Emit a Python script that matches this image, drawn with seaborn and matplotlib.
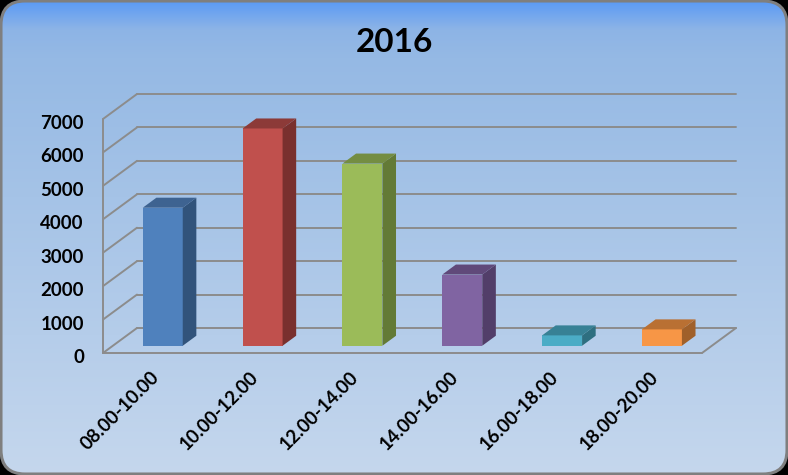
import numpy as np
import pandas as pd
import seaborn as sns
import matplotlib.pyplot as plt
from matplotlib.colors import LinearSegmentedColormap
from matplotlib.patches import FancyBboxPatch, Polygon
from matplotlib.transforms import Affine2D

categories = ["08.00-10.00", "10.00-12.00", "12.00-14.00", "14.00-16.00", "16.00-18.00", "18.00-20.00"]
values = [4130, 6500, 5450, 2130, 310, 490]
y_ticks = [0, 1000, 2000, 3000, 4000, 5000, 6000, 7000]

front_colors = ["#4F81BD", "#C0504D", "#9BBB59", "#8064A2", "#4BACC6", "#F79646"]
side_colors = ["#31537B", "#79302E", "#637A36", "#523E69", "#2E6F80", "#A0602A"]
top_colors = ["#3E6391", "#8C3A38", "#748D42", "#60497A", "#378195", "#B97033"]
grid_color = "#8C8C8C"

W, H = 788, 475
DX, DY = 34, 25      # depth of the box in pixels
BAR_FRONT, BAR_BACK = 0.29, 0.69

sns.set_theme(style="white")
plt.rcParams["font.family"] = ["Lato", "DejaVu Sans"]

fig = plt.figure(figsize=(W / 100, H / 100), dpi=100, facecolor="black")

# background panel with rounded corners
bg = fig.add_axes([0, 0, 1, 1], zorder=0)
bg.set_xlim(0, W)
bg.set_ylim(H, 0)
bg.axis("off")
cmap = LinearSegmentedColormap.from_list(
    "panel", [(0, "#5A9AF6"), (0.06, "#8DB4E6"), (0.12, "#95B9E4"), (1, "#C5D7ED")]
)
img = bg.imshow(np.linspace(0, 1, 256).reshape(-1, 1), cmap=cmap, aspect="auto", extent=[0, W, H, 0])
panel = FancyBboxPatch((1, 1), W - 2, H - 2, boxstyle="round,pad=0,rounding_size=24",
                       fc="none", ec="#7F7F7F", lw=2.2, zorder=3)
bg.add_patch(panel)
img.set_clip_path(panel)

# front plane of the box is the real axes
ax = fig.add_axes([103 / W, (H - 353) / H, 599 / W, 234 / H], zorder=1)
ax.patch.set_visible(False)

df = pd.DataFrame({"slot": categories, "count": values})
sns.barplot(data=df, x="slot", y="count", hue="slot", palette=front_colors, saturation=1,
            width=0.4, dodge=False, legend=False, ax=ax, zorder=3, edgecolor="none", linewidth=0)
ax.set_xlim(-0.5, 5.5)
ax.set_ylim(0, 7000)
ax.set_yticks(y_ticks)
ax.set_xlabel("")
ax.set_ylabel("")
sns.despine(ax=ax, left=True, bottom=True)
ax.tick_params(axis="y", length=0, pad=13)
ax.tick_params(axis="x", length=0, pad=11)
plt.setp(ax.get_yticklabels(), fontsize=13.5, fontweight="bold", color="black")
plt.setp(ax.get_xticklabels(), fontsize=13.5, fontweight="bold", color="black",
         rotation=45, ha="right", rotation_mode="anchor")
for label in ax.get_yticklabels():
    label.set_transform(label.get_transform() + Affine2D().translate(-1, -3))
for label in ax.get_xticklabels():
    label.set_transform(label.get_transform() + Affine2D().translate(-3, 0))


def depth(d):
    return ax.transData + Affine2D().translate(DX * d, DY * d)


# walls and grid
back = depth(1)
for v in y_ticks:
    x0, y0 = ax.transData.transform((-0.5, v))
    ax.plot([x0, x0 + DX], [y0, y0 + DY], color=grid_color, lw=1.4, transform=None, zorder=1, clip_on=False)
    ax.plot([-0.5, 5.5], [v, v], color=grid_color, lw=1.4, transform=back, zorder=1, clip_on=False)
ax.plot([-0.5, -0.5], [0, 7000], color=grid_color, lw=1.4, zorder=1, clip_on=False)
ax.plot([-0.5, 5.5], [0, 0], color=grid_color, lw=1.4, zorder=1, clip_on=False)
xr, yr = ax.transData.transform((5.5, 0))
ax.plot([xr, xr + DX], [yr, yr + DY], color=grid_color, lw=1.4, transform=None, zorder=1, clip_on=False)

# extrude the bars
run = (DX * (BAR_BACK - BAR_FRONT), DY * (BAR_BACK - BAR_FRONT))
for bar, side, top in zip(ax.patches, side_colors, top_colors):
    bar.set_transform(depth(BAR_FRONT))
    (xa, ya), (xb, yb) = depth(BAR_FRONT).transform(
        [(bar.get_x(), bar.get_y()), (bar.get_x() + bar.get_width(), bar.get_height())]
    )
    ax.add_patch(Polygon([(xb, ya), (xb + run[0], ya + run[1]), (xb + run[0], yb + run[1]), (xb, yb)],
                         fc=side, ec="none", transform=None, zorder=3, clip_on=False))
    ax.add_patch(Polygon([(xa, yb), (xa + run[0], yb + run[1]), (xb + run[0], yb + run[1]), (xb, yb)],
                         fc=top, ec="none", transform=None, zorder=3, clip_on=False))

fig.text(394.5 / W, 1 - 43 / H, "2016", ha="center", va="center", fontsize=24, fontweight="bold", color="black")

fig.savefig("out.png", dpi=100, facecolor="black")
